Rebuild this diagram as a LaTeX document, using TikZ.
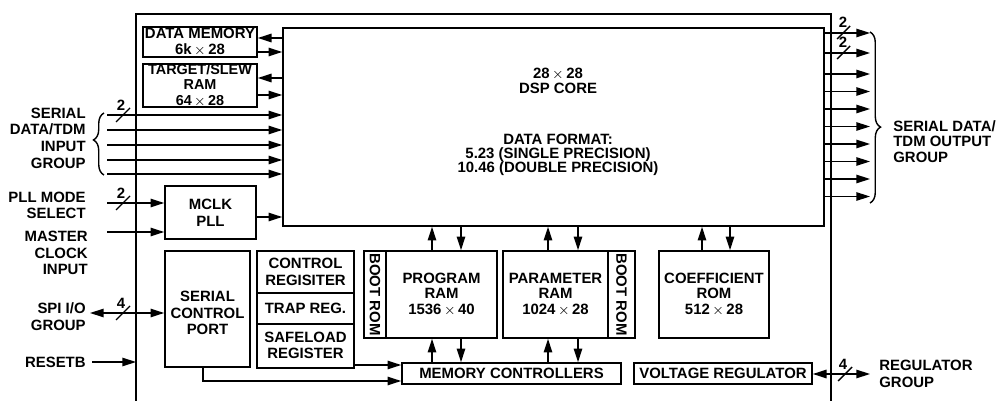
\documentclass[tikz,border=0pt]{standalone}
\usepackage{fontspec}
\setmainfont{Liberation Sans}
\usetikzlibrary{arrows.meta,fit,decorations.pathreplacing}
\begin{document}
\begin{tikzpicture}[x=0.02cm,y=-0.02cm,
  every node/.style={font=\bfseries\fontsize{8.5}{9}\selectfont},
  box/.style={draw,line width=0.9pt,inner sep=0pt},
  txt/.style={inner sep=0pt,align=center},
  arr/.style={line width=0.9pt,-{Triangle[length=7.8pt,width=4.8pt]}},
  darr/.style={line width=0.9pt,{Triangle[length=7.8pt,width=4.8pt]}-{Triangle[length=7.8pt,width=4.8pt]}},
  tick/.style={line width=0.8pt},
  lbl/.style={inner sep=0pt,align=right,anchor=east},
  rlbl/.style={inner sep=0pt,align=left,anchor=west},
  num/.style={inner sep=0pt},
  brc/.style={line width=0.8pt,decorate,decoration={brace,amplitude=6pt,aspect=#1}},
  ]
\useasboundingbox (0,0) rectangle (999,401);
% chip outline
\draw[line width=1.3pt] (136,401) -- (136,14) -- (831,14) -- (831,401);

% core
\node[box,fit={(283,28) (824,226)}] (core) {};
\node[txt,font=\bfseries\fontsize{8.5}{8.6}\selectfont] (coret1) at (558,80.5) {28\,$\times$\,28\\DSP CORE};
\node[txt,font=\bfseries\fontsize{8.5}{8.1}\selectfont] (coret2) at (558,155) {DATA FORMAT:\\5.23 (SINGLE PRECISION)\\10.46 (DOUBLE PRECISION)};

% memories left
\node[box,fit={(143,27) (257,57)}] (dm) {};
\node[txt,font=\bfseries\fontsize{8.5}{9}\selectfont] (dmt) at (dm.center) {DATA MEMORY\\6k\,$\times$\,28};
\node[box,fit={(143,64) (257,107)}] (ts) {};
\node[txt,font=\bfseries\fontsize{8.2}{8.6}\selectfont] (tst) at (ts.center) {TARGET/SLEW\\RAM\\64\,$\times$\,28};
\coordinate (y38) at (0,38);
\coordinate (y52) at (0,52);
\coordinate (y78) at (0,78);
\coordinate (y95) at (0,95);
\draw[arr] (core.west |- y38) -- (dm.east |- y38);
\draw[arr] (dm.east |- y52) -- (core.west |- y52);
\draw[arr] (core.west |- y78) -- (ts.east |- y78);
\draw[arr] (ts.east |- y95) -- (core.west |- y95);

% serial data inputs
\foreach \i/\y in {1/115,2/130,3/145,4/160,5/174}{
  \coordinate (in\i) at (107,\y);
  \draw[arr] (in\i) -- (core.west |- in\i);
}
\draw[tick] (116,122) -- (130,108);
\node[num] (n1) at (121,105) {2};
\draw[brc=0.565] (104,175) -- (104,113);
\node[lbl,font=\bfseries\fontsize{8.5}{9.5}\selectfont] (sdin) at (86,138) {SERIAL\\DATA/TDM\\INPUT\\GROUP};

% PLL
\node[box,fit={(165,186) (256,239)}] (pll) {};
\node[txt,font=\bfseries\fontsize{8.5}{9.6}\selectfont] (pllt) at (pll.center) {MCLK\\PLL};
\coordinate (pllin) at (107,203);
\coordinate (mclkin) at (107,232);
\draw[arr] (pllin) -- (pll.west |- pllin);
\draw[arr] (mclkin) -- (pll.west |- mclkin);
\draw[tick] (116,210) -- (130,196);
\node[num] (n2) at (121,193) {2};
\coordinate (y217) at (0,217);
\draw[arr] (pll.east |- y217) -- (core.west |- y217);
\node[lbl,font=\bfseries\fontsize{8.5}{9.5}\selectfont] (pllm) at (86,205.5) {PLL MODE\\SELECT};
\node[lbl,font=\bfseries\fontsize{8.5}{9.5}\selectfont] (mclkl) at (88,253) {MASTER\\CLOCK\\INPUT};

% serial control port
\node[box,fit={(165,251) (250,367)}] (scp) {};
\node[txt,font=\bfseries\fontsize{8.5}{9.3}\selectfont] (scpt) at (207.5,313) {SERIAL\\CONTROL\\PORT};
\coordinate (spi) at (90,313);
\draw[darr] (spi) -- (scp.west |- spi);
\draw[tick] (116,320) -- (130,306);
\node[num] (n3) at (121,303) {4};
\node[lbl,font=\bfseries\fontsize{8.5}{9.5}\selectfont] (spil) at (86,316.5) {SPI I/O\\GROUP};
\coordinate (rst) at (92,362);
\coordinate (rstend) at (136,362);
\draw[arr] (rst) -- (rstend);
\node[lbl] (rstl) at (86,362) {RESETB};

% registers
\node[box,fit={(257,251) (354,293)}] (ctrl) {};
\node[txt,font=\bfseries\fontsize{8.5}{9.6}\selectfont] (ctrlt) at (ctrl.center) {CONTROL\\REGISITER};
\node[box,fit={(257,293) (354,324)}] (trap) {};
\node[txt] (trapt) at (trap.center) {TRAP REG.};
\node[box,fit={(257,324) (354,368)}] (safe) {};
\node[txt,font=\bfseries\fontsize{8.5}{9.2}\selectfont] (safet) at (305.5,345) {SAFELOAD\\REGISTER};

% memory controllers
\node[box,fit={(402,363) (621,384)}] (mc) {};
\node[txt] (mct) at (mc.center) {MEMORY CONTROLLERS};
\coordinate (y365) at (0,365);
\coordinate (y381) at (0,381);
\draw[arr] (safe.east |- y365) -- (mc.west |- y365);
\coordinate (scpb) at (203,367);
\draw[arr] (scp.south -| scpb) -- (scpb |- y381) -- (mc.west |- y381);

% program RAM
\node[box,fit={(364,251) (386,338)}] (boot1) {};
\node[rotate=-90,inner sep=0pt] (boot1t) at (boot1.center) {BOOT ROM};
\node[box,fit={(386,251) (497,338)}] (pram) {};
\node[txt,font=\bfseries\fontsize{8.5}{8.7}\selectfont] (pramt) at (pram.center) {PROGRAM\\RAM\\1536\,$\times$\,40};
% parameter RAM
\node[box,fit={(503,251) (608,338)}] (parr) {};
\node[txt,font=\bfseries\fontsize{8.5}{8.7}\selectfont] (parrt) at (parr.center) {PARAMETER\\RAM\\1024\,$\times$\,28};
\node[box,fit={(608,251) (635,338)}] (boot2) {};
\node[rotate=-90,inner sep=0pt] (boot2t) at (boot2.center) {BOOT ROM};
% coefficient ROM
\node[box,fit={(659,251) (769,338)}] (crom) {};
\node[txt,font=\bfseries\fontsize{8.5}{8.7}\selectfont] (cromt) at (crom.center) {COEFFICIENT\\ROM\\512\,$\times$\,28};

\foreach \u/\d/\n in {432/461/pram,548/578/parr}{
  \coordinate (u) at (\u,0);
  \coordinate (d) at (\d,0);
  \draw[arr] (\n.north -| u) -- (core.south -| u);
  \draw[arr] (core.south -| d) -- (\n.north -| d);
  \draw[arr] (mc.north -| u) -- (\n.south -| u);
  \draw[arr] (\n.south -| d) -- (mc.north -| d);
}
\coordinate (cu) at (702,0);
\coordinate (cd) at (730,0);
\draw[arr] (crom.north -| cu) -- (core.south -| cu);
\draw[arr] (core.south -| cd) -- (crom.north -| cd);

% voltage regulator
\node[box,fit={(634,363) (812,384)}] (vr) {};
\node[txt] (vrt) at (vr.center) {VOLTAGE REGULATOR};
\coordinate (reg) at (870,374);
\draw[darr] (vr.east |- reg) -- (reg);
\draw[tick] (838,381) -- (852,367);
\node[num] (n4) at (843,364) {4};
\node[rlbl,font=\bfseries\fontsize{8.5}{9.8}\selectfont] (regl) at (879,374) {REGULATOR\\GROUP};

% outputs
\foreach \i/\y in {1/33,2/53,3/74,4/91.5,5/109,6/126.5,7/144,8/161.5,9/179,10/196.5}{
  \coordinate (out\i) at (870,\y);
  \draw[arr] (core.east |- out\i) -- (out\i);
}
\draw[tick] (837,39) -- (850,26);
\node[num] (n5) at (843,22) {2};
\draw[tick] (837,59) -- (850,46);
\node[num] (n6) at (843,42) {2};
\draw[brc=0.556] (870,32) -- (870,203);
\node[rlbl,font=\bfseries\fontsize{8.5}{8.7}\selectfont] (outl) at (893,141.5) {SERIAL DATA/\\TDM OUTPUT\\GROUP};
\end{tikzpicture}
\end{document}
